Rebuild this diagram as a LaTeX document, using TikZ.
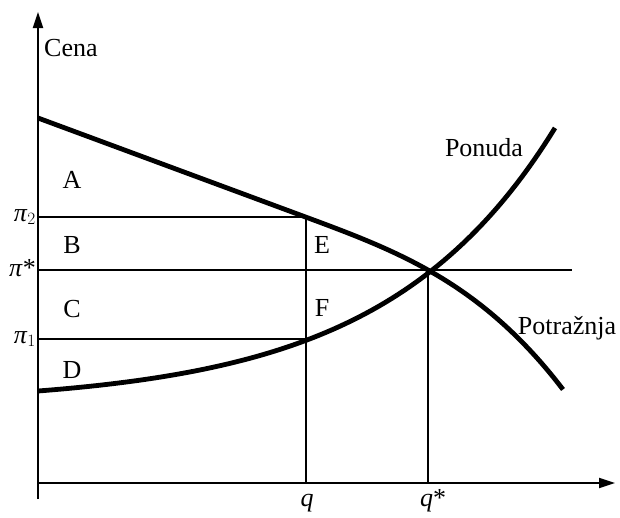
\documentclass[tikz,border=0pt]{standalone}
\usepackage{fontspec}
\setmainfont{Liberation Serif}
\usetikzlibrary{arrows.meta}
\begin{document}
\begin{tikzpicture}[x=1pt,y=-1pt,
  axis/.style={line width=2pt,-{Triangle[length=16pt,width=10pt]}},
  curve/.style={line width=4.8pt,line join=round},
  thin/.style={line width=1.4pt},
  lbl/.style={inner sep=0pt,font=\fontsize{26}{29}\selectfont}]
\useasboundingbox (0,0) rectangle (620,517);
% coordinates
\coordinate (ybot) at (38,499);
\coordinate (ytop) at (38,12);
\coordinate (xleft) at (38,483);
\coordinate (xright) at (615,483);
\coordinate (E) at (428,270);
\coordinate (D2) at (306,217);
\coordinate (S2) at (306,339);
\coordinate (p2) at (38,217);
\coordinate (ps) at (38,270);
\coordinate (p1) at (38,339);
\coordinate (psr) at (572,270);
\coordinate (qb) at (306,483);
\coordinate (qsb) at (428,483);
\coordinate (Dstart) at (38,118);
\coordinate (Dknee) at (300,214.94);
% axes
\draw[axis] (ybot) -- (ytop);
\draw[axis] (xleft) -- (xright);
% thin lines
\draw[thin] (p2) -- (D2) -- (qb);
\draw[thin] (p1) -- (S2);
\draw[thin] (ps) -- (psr);
\draw[thin] (E) -- (qsb);
% demand curve
\draw[curve] (Dstart) -- (Dknee) -- plot[domain=301:563,samples=60,variable=\t]
  ({\t},{118+0.37*(\t-38)+3.5*((\t-300)/100)^3.2});
% supply curve
\draw[curve] plot[domain=38:555,samples=80,variable=\t]
  ({\t},{391-13.2*(exp((\t-38)/170)-1)});
% labels
\node[lbl,anchor=west] (cena) at (44,48) {Cena};
\node[lbl] (ponuda) at (484,148) {Ponuda};
\node[lbl] (potraznja) at (567,328) {Potražnja};
\node[lbl] (A) at (72,180) {A};
\node[lbl] (B) at (72,245) {B};
\node[lbl] (C) at (72,309) {C};
\node[lbl] (Dl) at (72,370) {D};
\node[lbl] (El) at (322,245) {E};
\node[lbl] (F) at (322,308) {F};
\node[lbl,anchor=east] (lp2) at (36,217) {\textit{π}$_2$};
\node[lbl,anchor=east] (lps) at (36,268) {\textit{π}*};
\node[lbl,anchor=east] (lp1) at (36,339) {\textit{π}$_1$};
\node[lbl] (lq) at (307,503) {\textit{q}};
\node[lbl] (lqs) at (433,501) {\textit{q}*};
\end{tikzpicture}
\end{document}
